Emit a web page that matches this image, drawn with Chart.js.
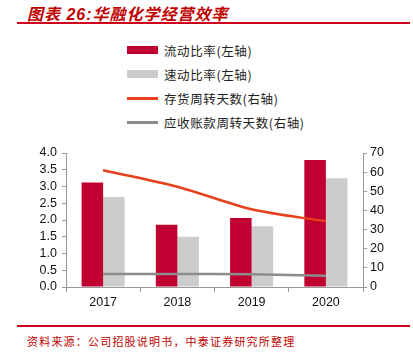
<!DOCTYPE html>
<html>
<head>
<meta charset="utf-8">
<script src="https://cdn.jsdelivr.net/npm/chart.js@4"></script>
<style>
body{margin:0;width:413px;height:354px;background:#fff;position:relative;overflow:hidden;font-family:"Noto Sans CJK SC",sans-serif}
#title{position:absolute;left:27px;top:1px;font-size:16px;font-weight:bold;font-style:italic;color:#c00000;letter-spacing:1px;font-family:"Liberation Sans","Noto Sans CJK SC",sans-serif}
.rule{position:absolute;left:17px;width:393px;height:2px;background:#d0021b}
#legend{position:absolute;left:127px;top:38px}
.li{height:24px;display:flex;align-items:center;font-size:12.5px;color:#222;letter-spacing:0.6px}
.sw{width:31px;margin-right:6px}
#src{position:absolute;left:27px;top:333px;font-size:11px;color:#c00000;letter-spacing:1.2px}
#box{position:absolute;left:0;top:140px;width:413px;height:178px}
</style>
</head>
<body>
<div id="title">图表 26:华融化学经营效率</div>
<div class="rule" style="top:22px"></div>
<div id="legend"></div>
<div id="box"><canvas id="myChart"></canvas></div>
<div class="rule" style="top:325px"></div>
<div id="src">资料来源：公司招股说明书，中泰证券研究所整理</div>
<script>
// data
const years = ['2017', '2018', '2019', '2020'];
const currentRatio = [3.12, 1.86, 2.06, 3.79];
const quickRatio = [2.69, 1.50, 1.81, 3.25];
const invDays = [61.0, 52.4, 40.6, 34.3];
const arDays = [6.8, 6.8, 6.6, 5.9];

const names = ['流动比率(左轴)', '速动比率(左轴)', '存货周转天数(右轴)', '应收账款周转天数(右轴)'];
const colors = ['#c00030', '#cccccc', '#e8401a', '#8c8c8c'];

var leg = document.getElementById('legend');
names.forEach(function(n, i){
    var row = document.createElement('div');
    row.className = 'li';
    var sw = document.createElement('span');
    sw.className = 'sw';
    sw.style.height = i < 2 ? '8px' : '3px';
    sw.style.background = colors[i];
    row.appendChild(sw);
    row.appendChild(document.createTextNode(n));
    leg.appendChild(row);
});

const tickFont = {family: 'Liberation Sans, Arial, sans-serif', size: 12.5};

var ctx = document.getElementById('myChart');
var myChart = new Chart(ctx, {
    data: {
        labels: years,
        datasets: [
            {type: 'bar', label: names[0], data: currentRatio, backgroundColor: colors[0], yAxisID: 'y', order: 2,
             categoryPercentage: 0.58, barPercentage: 1},
            {type: 'bar', label: names[1], data: quickRatio, backgroundColor: colors[1], yAxisID: 'y', order: 2,
             categoryPercentage: 0.58, barPercentage: 1},
            {type: 'line', label: names[2], data: invDays, borderColor: colors[2], borderWidth: 2.5,
             pointRadius: 0, tension: 0.3, yAxisID: 'y1', order: 1},
            {type: 'line', label: names[3], data: arDays, borderColor: colors[3], borderWidth: 2.5,
             pointRadius: 0, tension: 0.3, yAxisID: 'y1', order: 1}
        ]
    },
    options: {
        responsive: true,
        maintainAspectRatio: false,
        animation: false,
        layout: {padding: {top: 13, left: 0, right: 0, bottom: 0}},
        plugins: {legend: {display: false}, tooltip: {enabled: false}},
        scales: {
            x: {
                grid: {display: true, drawOnChartArea: false, color: '#999', tickLength: 5},
                border: {color: '#999'},
                ticks: {color: '#111', font: tickFont, padding: 3},
                afterFit: function(s){ s.height = 31; }
            },
            y: {
                position: 'left', min: 0, max: 4,
                grid: {display: true, drawOnChartArea: false, color: '#999', tickLength: 4},
                border: {color: '#999'},
                ticks: {stepSize: 0.5, autoSkip: false, color: '#111', font: tickFont, padding: 5,
                        callback: function(v){ return v.toFixed(1); }},
                afterFit: function(s){ s.width = 66; }
            },
            y1: {
                position: 'right', min: 0, max: 70,
                grid: {display: true, drawOnChartArea: false, color: '#999', tickLength: 4},
                border: {color: '#999'},
                ticks: {stepSize: 10, autoSkip: false, color: '#111', font: tickFont, padding: 3},
                afterFit: function(s){ s.width = 50; }
            }
        }
    }
});
</script>
</body>
</html>
